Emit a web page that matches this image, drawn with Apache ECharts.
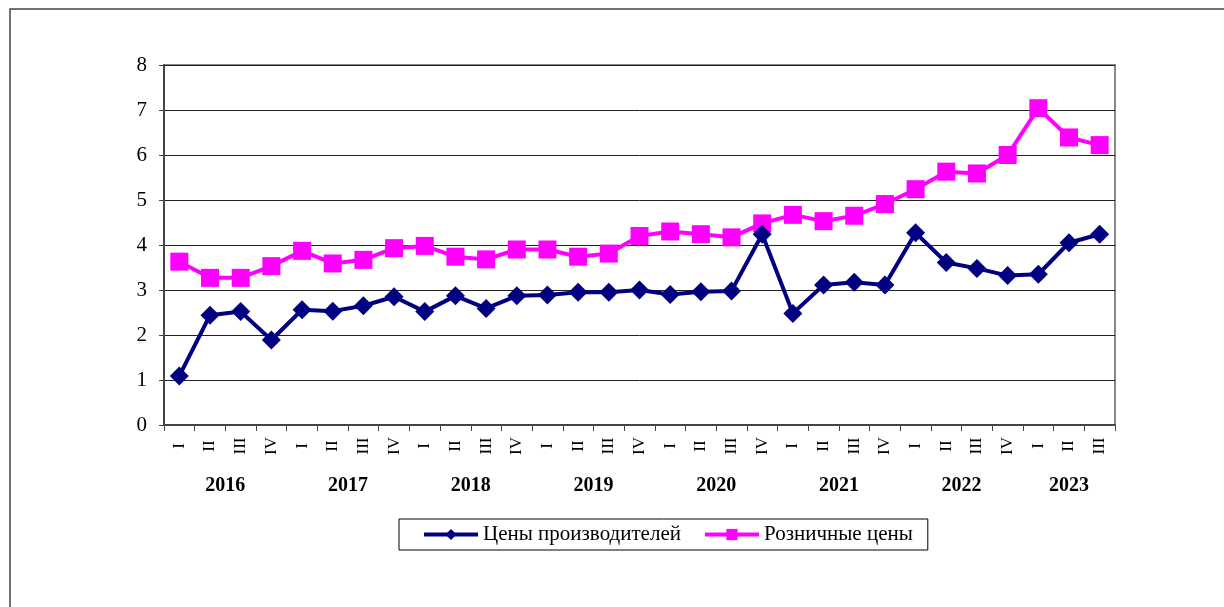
<!DOCTYPE html>
<html>
<head>
<meta charset="utf-8">
<script src="https://cdn.jsdelivr.net/npm/echarts@6/dist/echarts.min.js"></script>
<style>
  html, body { margin: 0; padding: 0; background: #fff; overflow: hidden; }
  #board { width: 1224px; height: 607px; }
</style>
</head>
<body>
<div id="board"></div>
<script>
// кварталы 2016 I ... 2023 III
const quarters = ["I", "II", "III", "IV"];
const years = ["2016", "2017", "2018", "2019", "2020", "2021", "2022", "2023"];
const categories = [];
years.forEach(function (y, i) {
  const n = y === "2023" ? 3 : 4;
  for (let q = 0; q < n; q++) categories.push(quarters[q]);
});

const producerPrices = [
  1.09, 2.44, 2.52, 1.89,
  2.56, 2.53, 2.65, 2.85,
  2.52, 2.87, 2.59, 2.87,
  2.89, 2.95, 2.95, 3.00,
  2.90, 2.96, 2.98, 4.24,
  2.48, 3.11, 3.17, 3.11,
  4.27, 3.61, 3.48, 3.32,
  3.35, 4.05, 4.24
];
const retailPrices = [
  3.63, 3.27, 3.27, 3.53,
  3.87, 3.59, 3.67, 3.93,
  3.98, 3.74, 3.68, 3.90,
  3.90, 3.74, 3.81, 4.20,
  4.30, 4.24, 4.17, 4.48,
  4.67, 4.53, 4.65, 4.91,
  5.24, 5.63, 5.59, 6.00,
  7.04, 6.39, 6.22
];

const font = "'Liberation Serif', 'Times New Roman', serif";

var myChart = echarts.init(document.getElementById("board"));

const options = {
  backgroundColor: "#fff",
  animation: false,
  textStyle: { fontFamily: font, color: "#000" },
  grid: {
    left: 164, top: 65, right: 109, bottom: 182,
    show: true, borderColor: "#888", borderWidth: 2
  },
  xAxis: {
    type: "category",
    data: categories,
    boundaryGap: true,
    axisLine: { lineStyle: { color: "#444", width: 2 } },
    axisTick: { show: true, length: 6, lineStyle: { color: "#444", width: 1 } },
    axisLabel: {
      interval: 0, rotate: 90, margin: 21, align: "center",
      fontFamily: font, fontSize: 17, color: "#000"
    }
  },
  yAxis: {
    type: "value",
    min: 0, max: 8, interval: 1,
    axisLine: { show: true, lineStyle: { color: "#444", width: 2 } },
    axisTick: { show: true, length: 5, lineStyle: { color: "#444" } },
    axisLabel: { margin: 17, fontFamily: font, fontSize: 21, color: "#000" },
    splitLine: { show: true, lineStyle: { color: "#222", width: 1 } }
  },
  legend: {
    left: 399, top: 519,
    padding: [5, 15, 5, 23],
    itemGap: 22,
    itemWidth: 54, itemHeight: 14,
    borderColor: "#000", borderWidth: 1,
    lineStyle: { width: 4 },
    textStyle: { fontFamily: font, fontSize: 21, color: "#000" },
    data: ["Цены производителей", "Розничные цены"]
  },
  series: [
    {
      name: "Цены производителей",
      type: "line",
      data: producerPrices,
      symbol: "diamond",
      symbolSize: 19,
      color: "#000080",
      lineStyle: { width: 4, color: "#000080" },
      itemStyle: { color: "#000080" }
    },
    {
      name: "Розничные цены",
      type: "line",
      data: retailPrices,
      symbol: "rect",
      symbolSize: 18,
      color: "#ff00ff",
      lineStyle: { width: 4, color: "#ff00ff" },
      itemStyle: { color: "#ff00ff" },
      z: 1
    }
  ]
};

myChart.setOption(options);

// подписи годов под кварталами + внешняя рамка
const graphics = [{
  type: "rect",
  shape: { x: 10, y: 9, width: 1500, height: 900 },
  style: { fill: "none", stroke: "#444", lineWidth: 1.5 },
  silent: true
}];
let start = 0;
years.forEach(function (y) {
  const n = y === "2023" ? 3 : 4;
  const x0 = myChart.convertToPixel({ xAxisIndex: 0 }, start);
  const x1 = myChart.convertToPixel({ xAxisIndex: 0 }, start + n - 1);
  graphics.push({
    type: "text",
    x: (x0 + x1) / 2, y: 486,
    style: {
      text: y, fontFamily: font, fontSize: 20, fontWeight: "bold",
      fill: "#000", align: "center", verticalAlign: "middle"
    }
  });
  start += n;
});
myChart.setOption({ graphic: graphics });
</script>
</body>
</html>
